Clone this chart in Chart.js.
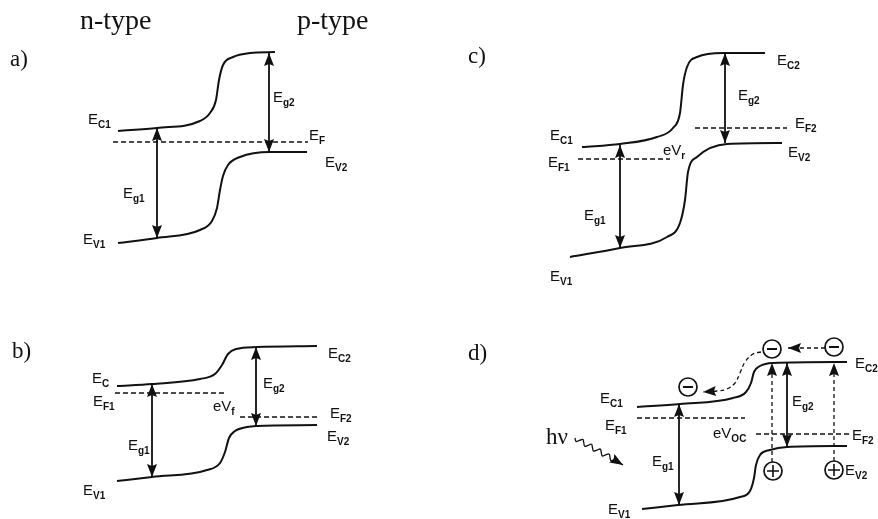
<!DOCTYPE html>
<html lang="en">
<head>
    <meta charset="UTF-8">
    <title>Heterojunction band diagrams</title>
    <script src="https://cdn.jsdelivr.net/npm/chart.js"></script>
    <style>
        html, body { margin: 0; padding: 0; background: #fff; }
        .wrap { width: 878px; height: 519px; position: relative; }
    </style>
</head>
<body>
    <div class="wrap">
        <canvas id="bands"></canvas>
    </div>
    <script>
        // picture units: x to the right, y downwards (energy grows upwards)
        // panel a) - equilibrium
        const aEc = [[118,131],[157,128],[200,121],[210,113],[216,100],[219,80],[223,65],[233,57],[250,53],[275,52]];
        const aEv = [[118,243],[157,238],[200,230],[212,221],[217,208],[220,190],[223,176],[228,165],[240,157],[270,152],[307,152]];
        const aEf = [[113,142],[308,142]];
        const aGap1 = [[157,128],[157,238]];
        const aGap2 = [[269,53],[269,152]];

        // panel b) - forward bias
        const bEc = [[117,386],[152,384],[200,379],[215,374],[222,365],[228,354],[236,349],[257,347],[317,346]];
        const bEv = [[117,481],[152,477],[207,470],[220,463],[225,452],[229,438],[235,431],[247,427],[257,426],[317,425]];
        const bEf1 = [[115,393],[225,393]];
        const bEf2 = [[240,417],[320,417]];
        const bGap1 = [[152,384],[152,477]];
        const bGap2 = [[256,347],[256,426]];

        // panel c) - reverse bias
        const cEc = [[582,147],[620,144],[657,137],[673,128],[680,113],[683,85],[687,67],[697,57],[723,53],[765,53]];
        const cEv = [[570,257],[620,248],[667,237],[680,223],[685,200],[688,172],[697,157],[727,144],[782,143]];
        const cEf1 = [[578,159],[670,159]];
        const cEf2 = [[695,128],[787,128]];
        const cGap1 = [[620,145],[620,248]];
        const cGap2 = [[725,53],[725,143]];

        // panel d) - illuminated
        const dEc = [[637,407],[680,404],[733,398],[746,392],[751,383],[754,372],[760,366],[773,363],[847,362]];
        const dEv = [[642,509],[678,505],[740,497],[750,491],[754,478],[756,465],[760,455],[770,450],[787,447],[847,446]];
        const dEf1 = [[637,418],[745,418]];
        const dEf2 = [[756,434],[850,434]];
        const dGap1 = [[679,404],[679,505]];
        const dGap2 = [[787,363],[787,447]];
        const dExcite1 = [[772,462],[772,363]];
        const dExcite2 = [[834,461],[834,363]];
        const dHop = [[825,348],[788,348]];
        const dDrift = [[761,352],[753,354],[745,362],[740,373],[735,383],[727,389],[717,391],[703,392]];
        const dPhoton = [[575,438],[576,441.4],[579.4,440.4],[582.8,439.4],[583.8,442.8],[584.7,446.2],[588.1,445.3],
                         [591.5,444.3],[592.5,447.7],[593.5,451.1],[596.9,450.1],[600.3,449.1],[601.3,452.5],
                         [602.2,455.9],[605.6,454.9],[609,454],[610,457.4],[611,460.8],[614.4,459.8],[623,465]];
        const electrons = [[772,349],[834,347],[688,387]];
        const holes = [[773,471],[834,470]];

        // text: [main, subscript, x, baseline]
        const symbols = [
            ['E','C1',88,124], ['E','g1',123,198], ['E','V1',83,244], ['E','g2',273,102], ['E','F',309,140], ['E','V2',325,167],
            ['E','C',92,383], ['E','F1',93,406], ['eV','f',213,411], ['E','g2',263,388], ['E','C2',328,358], ['E','F2',330,418],
            ['E','V2',327,441], ['E','g1',128,450], ['E','V1',83,495],
            ['E','C2',777,65], ['E','g2',738,100], ['E','F2',795,128], ['E','C1',550,140], ['eV','r',663,155], ['E','V2',788,157],
            ['E','F1',548,167], ['E','g1',584,220], ['E','V1',550,281],
            ['E','C2',855,368], ['E','C1',600,403], ['E','F1',605,430], ['eV','OC',713,438], ['E','g2',792,406], ['E','F2',852,440],
            ['E','g1',652,466], ['E','V2',845,475], ['E','V1',608,514]
        ];
        const captions = [['a)',10,66], ['b)',12,358], ['c)',468,63], ['d)',468,360], ['n-type',80,29], ['p-type',297,29], ['hν',546,444]];

        const ink = '#111';
        const pts = arr => arr.map(p => ({ x: p[0], y: p[1] }));

        function band(arr) {
            return { data: pts(arr), showLine: true, pointRadius: 0, borderColor: ink, borderWidth: 2,
                     cubicInterpolationMode: 'monotone', order: 3 };
        }
        function level(arr) {
            return { data: pts(arr), showLine: true, pointRadius: 0, borderColor: ink, borderWidth: 1.4,
                     borderDash: [5, 3], order: 3 };
        }
        function gap(arr) {
            return { data: pts(arr), showLine: true, pointRadius: 0, borderColor: ink, borderWidth: 1.8,
                     head: 'both', order: 3 };
        }
        function dashedArrow(arr, tension) {
            return { data: pts(arr), showLine: true, pointRadius: 0, borderColor: ink, borderWidth: 1.3,
                     borderDash: [4, 3], tension: tension || 0, head: 'end', order: 3 };
        }

        const datasets = [
            band(aEc), band(aEv), level(aEf), gap(aGap1), gap(aGap2),
            band(bEc), band(bEv), level(bEf1), level(bEf2), gap(bGap1), gap(bGap2),
            band(cEc), band(cEv), level(cEf1), level(cEf2), gap(cGap1), gap(cGap2),
            band(dEc), band(dEv), level(dEf1), level(dEf2), gap(dGap1), gap(dGap2),
            dashedArrow(dExcite1), dashedArrow(dExcite2), dashedArrow(dHop), dashedArrow(dDrift, 0.4),
            { data: pts(dPhoton), showLine: true, pointRadius: 0, borderColor: ink, borderWidth: 1.3,
              tension: 0.4, head: 'end', order: 3 },
            // charge carriers
            { data: pts(electrons.concat(holes)), showLine: false, pointStyle: 'circle', pointRadius: 9,
              pointBorderWidth: 1.7, pointBorderColor: ink, pointBackgroundColor: '#fff', order: 1 },
            { data: pts(electrons), showLine: false, pointStyle: 'line', pointRadius: 5,
              pointBorderWidth: 2, pointBorderColor: ink, order: 0 },
            { data: pts(holes), showLine: false, pointStyle: 'cross', pointRadius: 6,
              pointBorderWidth: 1.6, pointBorderColor: ink, order: 0 }
        ];

        function drawHead(ctx, from, to) {
            const ang = Math.atan2(to.y - from.y, to.x - from.x);
            const len = 13, half = 5, notch = 2;
            const c = Math.cos(ang), s = Math.sin(ang);
            ctx.beginPath();
            ctx.moveTo(to.x, to.y);
            ctx.lineTo(to.x - len * c - half * s, to.y - len * s + half * c);
            ctx.lineTo(to.x - (len - notch) * c, to.y - (len - notch) * s);
            ctx.lineTo(to.x - len * c + half * s, to.y - len * s - half * c);
            ctx.closePath();
            ctx.fill();
        }

        const arrowHeads = {
            id: 'arrowHeads',
            afterDatasetsDraw(chart) {
                const ctx = chart.ctx;
                ctx.save();
                ctx.fillStyle = ink;
                chart.data.datasets.forEach((ds, i) => {
                    if (!ds.head) return;
                    const el = chart.getDatasetMeta(i).data;
                    const n = el.length;
                    if (ds.head === 'end' || ds.head === 'both') drawHead(ctx, el[n - 2], el[n - 1]);
                    if (ds.head === 'both') drawHead(ctx, el[1], el[0]);
                });
                ctx.restore();
            }
        };

        const textLayer = {
            id: 'textLayer',
            afterDraw(chart) {
                const ctx = chart.ctx, sx = chart.scales.x, sy = chart.scales.y;
                ctx.save();
                ctx.fillStyle = ink;
                ctx.textBaseline = 'alphabetic';
                symbols.forEach(s => {
                    const x = sx.getPixelForValue(s[2]), y = sy.getPixelForValue(s[3]);
                    ctx.font = '15px "Liberation Sans", Arial, sans-serif';
                    ctx.fillText(s[0], x, y);
                    const w = ctx.measureText(s[0]).width;
                    ctx.font = 'bold 10px "Liberation Sans", Arial, sans-serif';
                    ctx.fillText(s[1], x + w, y + 4);
                });
                captions.forEach(c => {
                    const x = sx.getPixelForValue(c[1]), y = sy.getPixelForValue(c[2]);
                    ctx.font = (c[0].length > 2 ? '28px' : '23px') + ' "Liberation Serif", "Times New Roman", serif';
                    ctx.fillText(c[0], x, y);
                });
                ctx.restore();
            }
        };

        new Chart(document.getElementById('bands'), {
            type: 'scatter',
            data: { datasets: datasets },
            options: {
                responsive: true,
                maintainAspectRatio: false,
                animation: false,
                layout: { padding: 0, autoPadding: false },
                plugins: { legend: { display: false }, tooltip: { enabled: false } },
                scales: {
                    x: { type: 'linear', min: 0, max: 878, display: false },
                    y: { type: 'linear', min: 0, max: 519, reverse: true, display: false }
                }
            },
            plugins: [arrowHeads, textLayer]
        });
    </script>
</body>
</html>
